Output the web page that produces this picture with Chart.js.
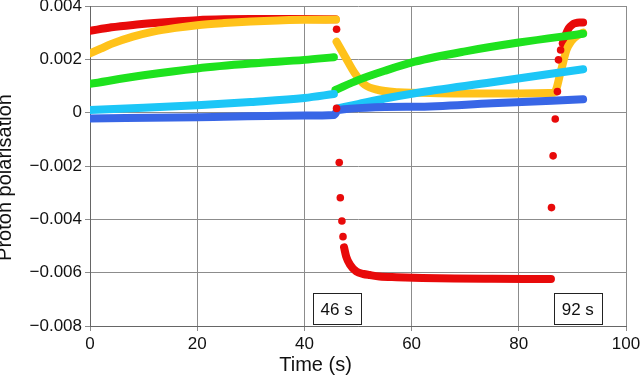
<!DOCTYPE html>
<html>
<head>
<meta charset="utf-8">
<script src="https://cdn.jsdelivr.net/npm/chart.js@4.4.1/dist/chart.umd.min.js"></script>
<style>
  html, body { margin: 0; padding: 0; background: #fff; }
  #wrap { width: 640px; height: 379px; }
</style>
</head>
<body>
<div id="wrap"><canvas id="c" width="640" height="379"></canvas></div>
<script>
// ---- data (time in s, polarisation) ----
// null in the P arrays = break in the line
const redT = [0, 4, 8, 12, 16, 20, 25, 30, 40, 45.8, 46, 47.4, 47.8, 48.5, 49.7, 51, 52.2, 54, 57.2, 62, 68, 75, 86, 86.1, 88.2, 88.7, 89.3, 90, 90.5, 91.3, 92];
const redP = [0.00307, 0.0032, 0.00329, 0.00336, 0.00342, 0.00347, 0.0035, 0.00351, 0.00351, 0.0035, null, -0.00505, -0.0054, -0.0057, -0.00596, -0.00605, -0.00609, -0.00614, -0.00617, -0.0062, -0.00622, -0.00623, -0.00624, null, 0.0026, 0.0029, 0.00316, 0.0033, 0.00335, 0.00338, 0.00338];

// sparse red dots during the two jumps
const redDotT = [46.0, 46.0, 46.5, 46.7, 47.0, 47.2, 86.1, 86.4, 86.8, 87.2, 87.4, 87.8];
const redDotP = [0.00313, 0.00016, -0.00187, -0.00319, -0.00406, -0.00465, -0.00356, -0.00162, -0.00024, 0.00079, 0.00198, 0.00235];

const yellowT = [0, 2, 4, 8, 12, 16, 20, 25, 30, 35, 40, 45.9, 46, 46.0, 47.6, 49.4, 51.3, 53.8, 57.5, 65, 75, 86.6, 87.9, 88.9, 89.8, 91, 92];
const yellowP = [0.00222, 0.0024, 0.00258, 0.00285, 0.00305, 0.00318, 0.00328, 0.00336, 0.00342, 0.00346, 0.00348, 0.00349, null, 0.00266, 0.0021, 0.00148, 0.00104, 0.00085, 0.00077, 0.00073, 0.00072, 0.00075, 0.0016, 0.00235, 0.00268, 0.0029, 0.003];

const greenT = [0, 10, 20, 30, 40, 45.5, 45.6, 45.8, 50, 55, 60.6, 70, 80, 92];
const greenP = [0.00108, 0.0014, 0.00166, 0.00184, 0.00198, 0.00208, null, 0.00085, 0.00122, 0.00157, 0.00191, 0.0023, 0.00263, 0.00296];

const cyanT = [0, 10, 20, 30, 40, 45.5, 45.8, 46.2, 50, 55, 60.6, 75, 92];
const cyanP = [0.0001, 0.00018, 0.00028, 0.0004, 0.00055, 0.0007, null, 0.00016, 0.00032, 0.00053, 0.00073, 0.00114, 0.00163];

const blueT = [0, 20, 40, 45.5, 46.3, 60.6, 75, 92];
const blueP = [-0.00022, -0.00017, -0.00011, -0.00009, 0.0001, 0.00022, 0.00035, 0.0005];

const xTicks = [0, 20, 40, 60, 80, 100];
const yTicks = [-0.008, -0.006, -0.004, -0.002, 0, 0.002, 0.004];

const boxLabels = ['46 s', '92 s'];
const boxAt = [46, 91];

const FONT = "'Liberation Sans', Arial, sans-serif";

function pts(t, p) {
  return t.map((x, i) => ({ x: x, y: p[i] }));
}

function fmtTick(v) {
  const r = Math.round(v * 1000) / 1000;
  if (r === 0) return '0';
  return r.toFixed(3).replace('-', '\u2212');
}

function lineSet(data, color, order) {
  return {
    data, borderColor: color, backgroundColor: color,
    borderWidth: 8, borderCapStyle: 'round', borderJoinStyle: 'round',
    pointRadius: 0, cubicInterpolationMode: 'monotone', spanGaps: false,
    order
  };
}

// axis titles + the two time boxes
const extras = {
  id: 'extras',
  afterDatasetsDraw(chart) {
    const ctx = chart.ctx, xs = chart.scales.x, area = chart.chartArea;
    ctx.save();
    ctx.font = '17px ' + FONT;
    ctx.textAlign = 'center';
    ctx.textBaseline = 'middle';
    boxLabels.forEach((lbl, i) => {
      const cx = xs.getPixelForValue(boxAt[i]);
      const w = 48, h = 31;
      const x0 = Math.round(cx - w / 2) + 0.5, y0 = area.bottom - 2 - h + 0.5;
      ctx.fillStyle = '#fff';
      ctx.fillRect(x0, y0, w, h);
      ctx.strokeStyle = '#222';
      ctx.lineWidth = 1;
      ctx.strokeRect(x0, y0, w, h);
      ctx.fillStyle = '#111';
      ctx.fillText(lbl, cx, y0 + h / 2 + 1);
    });
    ctx.font = '20px ' + FONT;
    ctx.fillStyle = '#111';
    ctx.textBaseline = 'alphabetic';
    ctx.fillText('Time (s)', 315.5, 371);
    ctx.translate(10.5, 177.5);
    ctx.rotate(-Math.PI / 2);
    ctx.fillText('Proton polarisation', 0, 0);
    ctx.restore();
  }
};

new Chart(document.getElementById('c'), {
  type: 'line',
  data: {
    datasets: [
      { data: pts(redDotT, redDotP), showLine: false, pointRadius: 3.8, pointBorderWidth: 0,
        pointBackgroundColor: '#e80a0a', borderColor: '#e80a0a', order: 0 },
      lineSet(pts(blueT, blueP), '#3866e6', 1),
      lineSet(pts(cyanT, cyanP), '#1cc6f7', 2),
      lineSet(pts(greenT, greenP), '#1ee21e', 3),
      lineSet(pts(yellowT, yellowP), '#ffc21a', 4),
      lineSet(pts(redT, redP), '#e80a0a', 5)
    ]
  },
  options: {
    responsive: false,
    animation: false,
    layout: { padding: { top: 6, right: 14, left: 0, bottom: 0 } },
    plugins: { legend: { display: false }, tooltip: { enabled: false } },
    scales: {
      x: {
        type: 'linear', min: 0, max: 100,
        afterBuildTicks: s => { s.ticks = xTicks.map(v => ({ value: v })); },
        afterFit: s => { s.height = 53; s.paddingLeft = 0; s.paddingRight = 0; },
        ticks: { color: '#111', font: { family: FONT, size: 17 }, padding: 3, maxRotation: 0 },
        grid: { color: '#8c8c8c', lineWidth: 1, tickLength: 5 },
        border: { color: '#666' }
      },
      y: {
        min: -0.008, max: 0.004,
        afterBuildTicks: s => { s.ticks = yTicks.map(v => ({ value: v })); },
        afterFit: s => { s.width = 90; s.paddingTop = 0; s.paddingBottom = 0; },
        ticks: { color: '#111', font: { family: FONT, size: 17 }, padding: 3, callback: fmtTick },
        grid: { color: '#8c8c8c', lineWidth: 1, tickLength: 5 },
        border: { color: '#666' }
      }
    }
  },
  plugins: [extras]
});
</script>
</body>
</html>
